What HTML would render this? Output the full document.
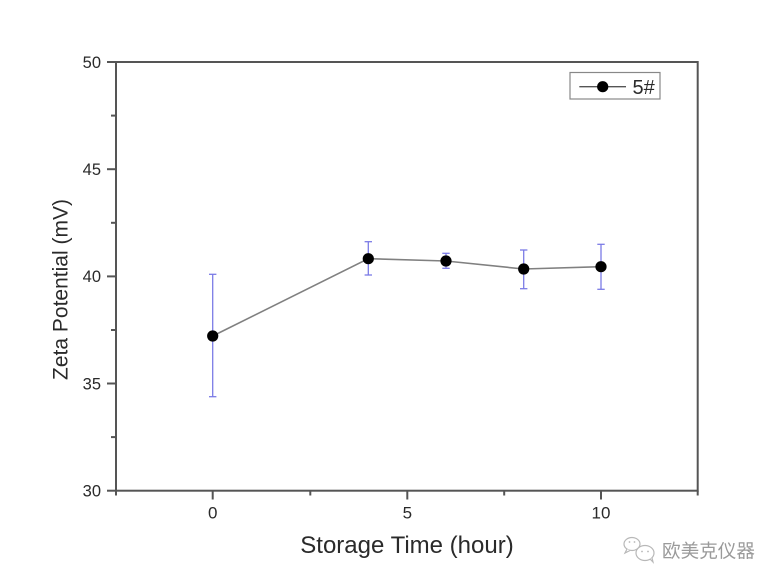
<!DOCTYPE html>
<html>
<head>
<meta charset="utf-8">
<style>
html,body{margin:0;padding:0;background:#fff;}
svg{display:block;}
text{font-family:"Liberation Sans","Noto Sans CJK SC",sans-serif;}
</style>
</head>
<body>
<svg width="780" height="585" viewBox="0 0 780 585" xmlns="http://www.w3.org/2000/svg">
<rect width="780" height="585" fill="#fff"/>
<!-- axes frame -->
<rect x="116" y="62" width="581.7" height="428.7" fill="none" stroke="#555" stroke-width="2"/>
<!-- y ticks -->
<g stroke="#555" stroke-width="2">
<line x1="107" y1="62" x2="116" y2="62"/>
<line x1="111" y1="115.6" x2="116" y2="115.6"/>
<line x1="107" y1="169.2" x2="116" y2="169.2"/>
<line x1="111" y1="222.8" x2="116" y2="222.8"/>
<line x1="107" y1="276.4" x2="116" y2="276.4"/>
<line x1="111" y1="330" x2="116" y2="330"/>
<line x1="107" y1="383.5" x2="116" y2="383.5"/>
<line x1="111" y1="437.1" x2="116" y2="437.1"/>
<line x1="107" y1="490.7" x2="116" y2="490.7"/>
<!-- x ticks -->
<line x1="116" y1="490.7" x2="116" y2="495.5"/>
<line x1="212.7" y1="490.7" x2="212.7" y2="499.5"/>
<line x1="310.3" y1="490.7" x2="310.3" y2="495.5"/>
<line x1="407.3" y1="490.7" x2="407.3" y2="499.5"/>
<line x1="504.2" y1="490.7" x2="504.2" y2="495.5"/>
<line x1="601" y1="490.7" x2="601" y2="499.5"/>
<line x1="697.7" y1="490.7" x2="697.7" y2="495.5"/>
</g>
<!-- y tick labels -->
<g fill="#2a2a2a" font-size="16.5" text-anchor="end">
<text x="101" y="67.8">50</text>
<text x="101" y="175">45</text>
<text x="101" y="282.2">40</text>
<text x="101" y="389.3">35</text>
<text x="101" y="496.5">30</text>
</g>
<!-- x tick labels -->
<g fill="#2a2a2a" font-size="17" text-anchor="middle">
<text x="212.7" y="518.5">0</text>
<text x="407.3" y="518.5">5</text>
<text x="601" y="518.5">10</text>
</g>
<!-- axis titles -->
<text x="407" y="553" font-size="24" fill="#2a2a2a" text-anchor="middle">Storage Time (hour)</text>
<text transform="translate(67.5,289.5) rotate(-90)" font-size="21" fill="#2a2a2a" text-anchor="middle">Zeta Potential (mV)</text>
<!-- error bars -->
<g stroke="#7b7be6" stroke-width="1.3" fill="none">
<line x1="212.7" y1="274.3" x2="212.7" y2="396.7"/>
<line x1="209" y1="274.3" x2="216.4" y2="274.3"/>
<line x1="209" y1="396.7" x2="216.4" y2="396.7"/>
<line x1="368.3" y1="241.7" x2="368.3" y2="275"/>
<line x1="364.6" y1="241.7" x2="372" y2="241.7"/>
<line x1="364.6" y1="275" x2="372" y2="275"/>
<line x1="446" y1="253.3" x2="446" y2="268.3"/>
<line x1="442.3" y1="253.3" x2="449.7" y2="253.3"/>
<line x1="442.3" y1="268.3" x2="449.7" y2="268.3"/>
<line x1="523.7" y1="250" x2="523.7" y2="288.7"/>
<line x1="520" y1="250" x2="527.4" y2="250"/>
<line x1="520" y1="288.7" x2="527.4" y2="288.7"/>
<line x1="601" y1="244.3" x2="601" y2="289.3"/>
<line x1="597.3" y1="244.3" x2="604.7" y2="244.3"/>
<line x1="597.3" y1="289.3" x2="604.7" y2="289.3"/>
</g>
<!-- line -->
<polyline points="212.7,336 368.3,258.7 446,261 523.7,269 601,266.7" fill="none" stroke="#808080" stroke-width="1.6"/>
<!-- markers -->
<g fill="#000">
<circle cx="212.7" cy="336" r="5.6"/>
<circle cx="368.3" cy="258.7" r="5.6"/>
<circle cx="446" cy="261" r="5.6"/>
<circle cx="523.7" cy="269" r="5.6"/>
<circle cx="601" cy="266.7" r="5.6"/>
</g>
<!-- legend -->
<rect x="570" y="72.5" width="90" height="26.5" fill="#fff" stroke="#888" stroke-width="1.2"/>
<line x1="579.3" y1="86.7" x2="626" y2="86.7" stroke="#555" stroke-width="1.4"/>
<circle cx="602.7" cy="86.7" r="5.6" fill="#000"/>
<text x="632.5" y="93.8" font-size="20" fill="#2a2a2a">5#</text>
<!-- watermark -->
<g fill="#fff" stroke="#b8b8b8" stroke-width="1.2">
<ellipse cx="632" cy="544" rx="8" ry="6.5"/>
<path d="M627,549 l-2,4 l5,-2.5" />
<ellipse cx="645" cy="553" rx="9" ry="7.5"/>
<path d="M650,559 l3,3 l-1,-4" />
</g>
<g fill="#b8b8b8">
<circle cx="629.5" cy="542" r="0.9"/><circle cx="634.5" cy="542" r="0.9"/>
<circle cx="642" cy="551.5" r="0.9"/><circle cx="648" cy="551.5" r="0.9"/>
</g>
<text x="662" y="557.5" font-size="18.6" fill="#9a9a9a" font-family="'Noto Sans CJK SC',sans-serif">欧美克仪器</text>
</svg>
</body>
</html>
